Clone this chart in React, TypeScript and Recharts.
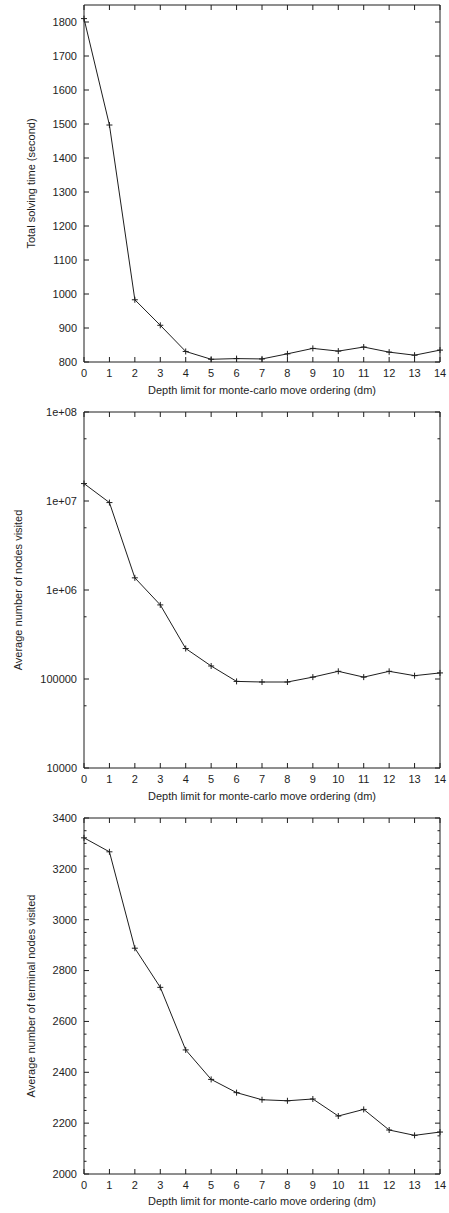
import { LineChart, Line, XAxis, YAxis } from "recharts";

const depth = [0, 1, 2, 3, 4, 5, 6, 7, 8, 9, 10, 11, 12, 13, 14];

const solveTime = [1810, 1497, 983, 908, 831, 808, 810, 809, 824, 840, 832, 844, 829, 820, 835];
const nodesVisited = [15700000, 9600000, 1370000, 680000, 220000, 140000, 94000, 92500, 92500, 105000, 122000, 105000, 122000, 109000, 117000];
const terminalNodes = [3322, 3267, 2888, 2734, 2488, 2372, 2320, 2292, 2288, 2295, 2228, 2254, 2173, 2152, 2165];

const timeTicks = [800, 900, 1000, 1100, 1200, 1300, 1400, 1500, 1600, 1700, 1800];
const nodeTicks = [10000, 100000, 1000000, 10000000, 100000000];
const nodeTickLabels = ["10000", "100000", "1e+06", "1e+07", "1e+08"];
const nodeMinorTicks = [50000, 500000, 5000000, 50000000];
const terminalTicks = [2000, 2200, 2400, 2600, 2800, 3000, 3200, 3400];
const terminalMinorTicks = [2050, 2100, 2150, 2250, 2300, 2350, 2450, 2500, 2550, 2650, 2700, 2750, 2850, 2900, 2950, 3050, 3100, 3150, 3250, 3300, 3350];

const xTitle = "Depth limit for monte-carlo move ordering (dm)";

const INK = "#1e1e1e";
const FONT = 11;
// mirrored helper axes need a size > 0 or recharts skips them
const THIN = 0.01;

const NoLabel = () => null;

const Plus = (props: any) => {
  const { cx, cy } = props;
  if (cx == null || cy == null) return null;
  return <path d={`M${cx - 3},${cy}h6M${cx},${cy - 3}v6`} stroke={INK} strokeWidth={1} fill="none" />;
};

type PanelProps = {
  values: number[];
  height: number;
  top: number;
  xAxisHeight: number;
  domain: [number, number];
  ticks: number[];
  minorTicks?: number[];
  log?: boolean;
  format?: (v: number) => string;
  title: string;
  titleOffset: number;
};

function Panel({ values, height, top, xAxisHeight, domain, ticks, minorTicks, log, format, title, titleOffset }: PanelProps) {
  const data = depth.map((d, i) => ({ d, v: values[i] }));
  const scale = log ? "log" : "linear";
  const tickStyle = { fill: INK, fontSize: FONT };
  return (
    <LineChart width={449} height={height} data={data} margin={{ top, right: 9, left: 0, bottom: 0 }}>
      <XAxis
        xAxisId="x"
        dataKey="d"
        type="number"
        domain={[0, 14]}
        ticks={depth}
        interval={0}
        tickLine={false}
        tickSize={0}
        tickMargin={7}
        axisLine={{ stroke: INK }}
        tick={tickStyle}
        height={xAxisHeight}
        label={{ value: xTitle, position: "insideBottom", offset: 8, fill: INK, fontSize: FONT }}
      />
      <XAxis xAxisId="xb" dataKey="d" type="number" domain={[0, 14]} allowDataOverflow ticks={depth} interval={0}
        orientation="bottom" mirror height={THIN} tick={NoLabel} tickSize={5} axisLine={false} tickLine={{ stroke: INK }} />
      <XAxis xAxisId="xt" dataKey="d" type="number" domain={[0, 14]} allowDataOverflow ticks={depth} interval={0}
        orientation="top" mirror height={THIN} tick={NoLabel} tickSize={5} axisLine={{ stroke: INK }} tickLine={{ stroke: INK }} />
      <YAxis
        yAxisId="y"
        type="number"
        scale={scale}
        domain={domain}
        ticks={ticks}
        interval={0}
        width={84}
        tickLine={false}
        tickSize={0}
        tickMargin={7}
        axisLine={{ stroke: INK }}
        tick={tickStyle}
        tickFormatter={format}
        label={{ value: title, angle: -90, position: "insideLeft", offset: titleOffset, fill: INK, fontSize: FONT, style: { textAnchor: "middle" } }}
      />
      <YAxis yAxisId="yl" type="number" scale={scale} domain={domain} allowDataOverflow ticks={ticks} interval={0}
        orientation="left" mirror width={THIN} tick={NoLabel} tickSize={5} axisLine={false} tickLine={{ stroke: INK }} />
      <YAxis yAxisId="yr" type="number" scale={scale} domain={domain} allowDataOverflow ticks={ticks} interval={0}
        orientation="right" mirror width={THIN} tick={NoLabel} tickSize={5} axisLine={{ stroke: INK }} tickLine={{ stroke: INK }} />
      {minorTicks && (
        <YAxis yAxisId="ylm" type="number" scale={scale} domain={domain} allowDataOverflow ticks={minorTicks} interval={0}
          orientation="left" mirror width={THIN} tick={NoLabel} tickSize={2.5} axisLine={false} tickLine={{ stroke: INK }} />
      )}
      {minorTicks && (
        <YAxis yAxisId="yrm" type="number" scale={scale} domain={domain} allowDataOverflow ticks={minorTicks} interval={0}
          orientation="right" mirror width={THIN} tick={NoLabel} tickSize={2.5} axisLine={false} tickLine={{ stroke: INK }} />
      )}
      <Line
        xAxisId="x"
        yAxisId="y"
        type="linear"
        dataKey="v"
        stroke={INK}
        strokeWidth={1}
        dot={<Plus />}
        activeDot={false}
        isAnimationActive={false}
      />
    </LineChart>
  );
}

export default function App() {
  return (
    <div style={{ position: "absolute", left: 0, top: 0, width: 449, height: 1213, background: "#fff", fontFamily: "'Liberation Sans', Arial, sans-serif" }}>
      <Panel
        values={solveTime}
        height={402}
        top={5}
        xAxisHeight={40}
        domain={[800, 1850]}
        ticks={timeTicks}
        title="Total solving time (second)"
        titleOffset={31}
      />
      <Panel
        values={nodesVisited}
        height={406}
        top={10}
        xAxisHeight={40}
        domain={[10000, 100000000]}
        ticks={nodeTicks}
        minorTicks={nodeMinorTicks}
        log
        format={(v) => nodeTickLabels[nodeTicks.indexOf(v)] ?? String(v)}
        title="Average number of nodes visited"
        titleOffset={18}
      />
      <Panel
        values={terminalNodes}
        height={405}
        top={10}
        xAxisHeight={39}
        domain={[2000, 3400]}
        ticks={terminalTicks}
        minorTicks={terminalMinorTicks}
        title="Average number of terminal nodes visited"
        titleOffset={31}
      />
    </div>
  );
}
